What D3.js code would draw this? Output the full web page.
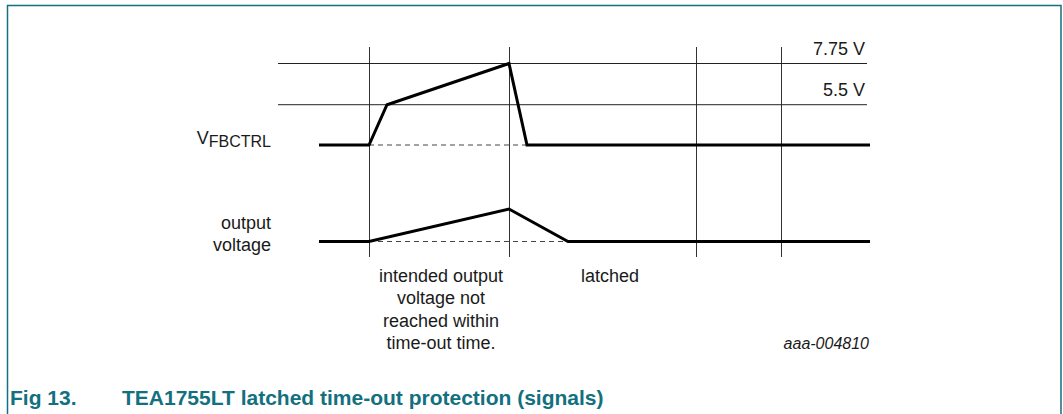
<!DOCTYPE html>
<html>
<head>
<meta charset="utf-8">
<script src="https://cdn.jsdelivr.net/npm/d3@7"></script>
<style>
  body { margin: 0; background: #fff; }
  svg { display: block; font-family: "Liberation Sans", Arial, sans-serif; }
</style>
</head>
<body>
<script>
// time markers (arbitrary time units) for the vertical lines
var markerTimes = [91, 231, 418, 503];
// threshold levels of V_FBCTRL
var thresholdValues = [7.75, 5.5];
var thresholdLabels = ["7.75 V", "5.5 V"];
// V_FBCTRL signal (time, volt)
var fbTimes = [41, 91, 109, 231, 249, 592];
var fbValues = [3.3, 3.3, 5.5, 7.75, 3.3, 3.3];
// output voltage signal (time, relative level)
var outTimes = [41, 91, 231, 290, 592];
var outValues = [0, 0, 1, 0, 0];
// dashed references
var fbDashTimes = [91, 249];
var outDashTimes = [91, 290];

var W = 1063, H = 414;
var teal = "#12707f";
var ink = "#1a1a1a";

var svg = d3.select("body").append("svg")
    .attr("width", W)
    .attr("height", H);

var x = d3.scaleLinear().domain([0, 592]).range([278, 870]);
var yFb = d3.scaleLinear().domain([3.3, 7.75]).range([145, 63.5]);
var yOut = d3.scaleLinear().domain([0, 1]).range([241.5, 209]);

// frame
svg.append("path")
    .attr("d", "M7.5,414 L7.5,5.5 L1061,5.5 L1061,414")
    .attr("fill", "none")
    .attr("stroke", teal)
    .attr("stroke-width", 1.5);

// vertical markers
svg.selectAll(".marker")
    .data(markerTimes)
    .enter()
    .append("line")
    .attr("class", "marker")
    .attr("x1", function (d) { return Math.round(x(d)) + 0.5; })
    .attr("x2", function (d) { return Math.round(x(d)) + 0.5; })
    .attr("y1", 47)
    .attr("y2", 257)
    .attr("stroke", "#333")
    .attr("stroke-width", 1);

// threshold lines
svg.selectAll(".thr")
    .data(thresholdValues)
    .enter()
    .append("line")
    .attr("class", "thr")
    .attr("x1", x(0))
    .attr("x2", x(589))
    .attr("y1", function (d) { return yFb(d); })
    .attr("y2", function (d) { return yFb(d); })
    .attr("stroke", "#222")
    .attr("stroke-width", 1);

svg.selectAll(".thrLabel")
    .data(thresholdValues)
    .enter()
    .append("text")
    .attr("class", "thrLabel")
    .attr("x", 865)
    .attr("y", function (d) { return yFb(d) - 8.5; })
    .attr("text-anchor", "end")
    .attr("font-size", 18)
    .attr("fill", ink)
    .text(function (d, i) { return thresholdLabels[i]; });

// dashed baselines
var dash = [
    { t: fbDashTimes, y: yFb(fbValues[0]) },
    { t: outDashTimes, y: yOut(outValues[0]) }
];
svg.selectAll(".dash")
    .data(dash)
    .enter()
    .append("line")
    .attr("class", "dash")
    .attr("x1", function (d) { return x(d.t[0]); })
    .attr("x2", function (d) { return x(d.t[1]); })
    .attr("y1", function (d) { return d.y; })
    .attr("y2", function (d) { return d.y; })
    .attr("stroke", "#444")
    .attr("stroke-width", 1)
    .attr("stroke-dasharray", "5,4");

// signals
var fbLine = d3.line()
    .x(function (d, i) { return x(fbTimes[i]); })
    .y(function (d) { return yFb(d); });
var outLine = d3.line()
    .x(function (d, i) { return x(outTimes[i]); })
    .y(function (d) { return yOut(d); });

svg.append("path")
    .attr("d", fbLine(fbValues))
    .attr("fill", "none")
    .attr("stroke", "#000")
    .attr("stroke-width", 3);

svg.append("path")
    .attr("d", outLine(outValues))
    .attr("fill", "none")
    .attr("stroke", "#000")
    .attr("stroke-width", 3);

// signal names
var vLabel = svg.append("text")
    .attr("x", 271)
    .attr("y", 144)
    .attr("text-anchor", "end")
    .attr("font-size", 18)
    .attr("fill", ink);
vLabel.append("tspan").text("V");
vLabel.append("tspan").attr("dy", 3).attr("font-size", 16).text("FBCTRL");

svg.selectAll(".outLabel")
    .data(["output", "voltage"])
    .enter()
    .append("text")
    .attr("class", "outLabel")
    .attr("x", 271)
    .attr("y", function (d, i) { return 229 + i * 22; })
    .attr("text-anchor", "end")
    .attr("font-size", 18)
    .attr("fill", ink)
    .text(function (d) { return d; });

// annotations
var noteLines = ["intended output", "voltage not", "reached within", "time-out time."];
svg.selectAll(".note")
    .data(noteLines)
    .enter()
    .append("text")
    .attr("class", "note")
    .attr("x", 441)
    .attr("y", function (d, i) { return 282 + i * 22.3; })
    .attr("text-anchor", "middle")
    .attr("font-size", 18)
    .attr("fill", ink)
    .text(function (d) { return d; });

svg.append("text")
    .attr("x", 610)
    .attr("y", 282)
    .attr("text-anchor", "middle")
    .attr("font-size", 18)
    .attr("fill", ink)
    .text("latched");

svg.append("text")
    .attr("x", 869)
    .attr("y", 349)
    .attr("text-anchor", "end")
    .attr("font-size", 16)
    .attr("font-style", "italic")
    .attr("fill", ink)
    .text("aaa-004810");

// caption
svg.append("text")
    .attr("x", 10)
    .attr("y", 405)
    .attr("font-size", 21)
    .attr("font-weight", "bold")
    .attr("fill", teal)
    .text("Fig 13.");
svg.append("text")
    .attr("x", 122)
    .attr("y", 405)
    .attr("font-size", 21)
    .attr("font-weight", "bold")
    .attr("fill", teal)
    .text("TEA1755LT latched time-out protection (signals)");
</script>
</body>
</html>
